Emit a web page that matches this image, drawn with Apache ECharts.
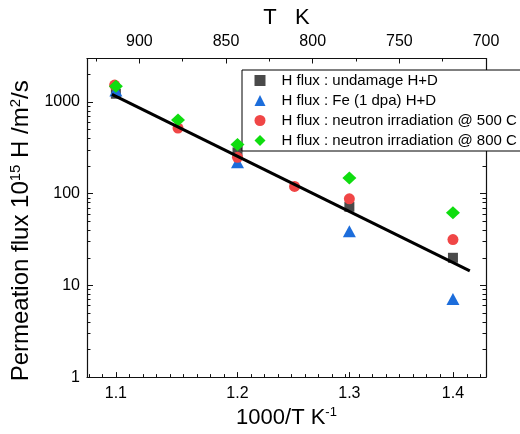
<!DOCTYPE html>
<html>
<head>
<meta charset="utf-8">
<script src="https://cdn.jsdelivr.net/npm/echarts@6.0.0/dist/echarts.min.js"></script>
<style>
  html, body { margin: 0; padding: 0; background: #fff; }
  #chart { width: 520px; height: 434px; }
</style>
</head>
<body>
<div id="chart"></div>
<script>
// ---- data (1000/T in K^-1, flux in 10^15 H/m^2/s) ----
const seriesNames = [
  'H flux : undamage H+D',
  'H flux : Fe (1 dpa) H+D',
  'H flux : neutron irradiation @ 500 C',
  'H flux : neutron irradiation @ 800 C'
];
const xUndamaged = [1.1, 1.2, 1.3, 1.4];
const yUndamaged = [1230, 282, 72, 20];
const xFe = [1.1, 1.2, 1.3, 1.4];
const yFe = [1335, 220, 39, 7.1];
const x500 = [1.099, 1.15, 1.2, 1.25, 1.3, 1.4];
const y500 = [1530, 519, 249, 120, 88, 31.6];
const x800 = [1.1, 1.15, 1.2, 1.3, 1.4];
const y800 = [1484, 637, 344, 148, 62];
const xFit = [1.0969, 1.417];
const yFit = [1210, 14.4];

// ---- tick labels ----
const bottomTickLabels = [1.1, 1.2, 1.3, 1.4];
const topTickLabels = [700, 750, 800, 850, 900];
const topMinorTicks = [725, 775, 825, 875, 925];
const yTickLabels = [1, 10, 100, 1000];

// ---- axis ranges ----
const X_MIN = 1.0775, X_MAX = 1.4335;   // 1000/T, log-scaled axis
const Y_MIN = 1, Y_MAX = 2980;          // flux, log-scaled axis
const T_RIGHT = 700, T_LEFT = 930.25;   // top T axis (linear)

const FONT = 'Liberation Sans, Arial, Helvetica, sans-serif';
const L = Math.log10;
const pts = (xs, ys) => xs.map((x, i) => [L(x), L(ys[i])]);

const xMajor = bottomTickLabels.map(L);
const xMinor = [];
{
  const step = (L(1.2) - L(1.1)) / 9;
  let v = L(1.1);
  while (v - step >= L(X_MIN)) v -= step;
  for (; v <= L(X_MAX) + 1e-9; v += step) xMinor.push(v);
}
const yMajor = yTickLabels.map(L);
const yMinor = [];
yTickLabels.forEach(d => { for (let k = 2; k <= 9; k++) if (k * d <= Y_MAX) yMinor.push(L(k * d)); });

const lineCol = '#111';
function tickAxisBase(extra) {
  return Object.assign({
    type: 'value',
    splitLine: { show: false },
    axisLine: { show: false, onZero: false },
    axisLabel: { show: false },
    axisPointer: { show: false }
  }, extra);
}

const chart = echarts.init(document.getElementById('chart'), null, { renderer: 'canvas' });

const option = {
  backgroundColor: '#fff',
  animation: false,
  grid: { left: 82, right: 34, top: 58.5, bottom: 51, containLabel: false },
  legend: {
    orient: 'vertical',
    left: 242, top: 70,
    padding: [3, 24, 3, 12.5],
    itemWidth: 11, itemHeight: 11, itemGap: 5,
    borderColor: '#000', borderWidth: 1, borderRadius: 0,
    backgroundColor: '#fff',
    textStyle: { fontFamily: FONT, fontSize: 15, color: '#000', lineHeight: 14, padding: [0, 0, 0, 11] },
    data: seriesNames
  },
  xAxis: [
    tickAxisBase({
      position: 'bottom', min: L(X_MIN), max: L(X_MAX),
      axisLine: { show: true, onZero: false, lineStyle: { color: lineCol, width: 1.2 } },
      axisTick: { show: true, inside: true, length: 5, customValues: xMajor, lineStyle: { color: lineCol } },
      axisLabel: {
        show: true, customValues: xMajor, margin: 8,
        formatter: v => Math.pow(10, v).toFixed(1),
        fontFamily: FONT, fontSize: 16, color: '#000'
      },
      name: '{a|1000/T K}{s|-1}', nameLocation: 'middle', nameGap: 26,
      nameTextStyle: {
        rich: {
          a: { fontFamily: FONT, fontSize: 22, color: '#000', lineHeight: 24 },
          s: { fontFamily: FONT, fontSize: 13, color: '#000', verticalAlign: 'top', lineHeight: 13 }
        }
      }
    }),
    tickAxisBase({
      position: 'bottom', min: L(X_MIN), max: L(X_MAX),
      axisTick: { show: true, inside: true, length: 3, customValues: xMinor, lineStyle: { color: lineCol } }
    }),
    tickAxisBase({
      position: 'top', inverse: true, min: T_RIGHT, max: T_LEFT,
      axisLine: { show: true, onZero: false, lineStyle: { color: lineCol, width: 1.2 } },
      axisTick: { show: true, inside: true, length: 5, customValues: topTickLabels, lineStyle: { color: lineCol } },
      axisLabel: {
        show: true, customValues: topTickLabels, margin: 9,
        fontFamily: FONT, fontSize: 16, color: '#000'
      },
      name: 'T   K', nameLocation: 'middle', nameGap: 27,
      nameTextStyle: { fontFamily: FONT, fontSize: 22, color: '#000' }
    }),
    tickAxisBase({
      position: 'top', inverse: true, min: T_RIGHT, max: T_LEFT,
      axisTick: { show: true, inside: true, length: 3, customValues: topMinorTicks, lineStyle: { color: lineCol } }
    })
  ],
  yAxis: [
    tickAxisBase({
      position: 'left', min: L(Y_MIN), max: L(Y_MAX),
      axisLine: { show: true, onZero: false, lineStyle: { color: lineCol, width: 1.2 } },
      axisTick: { show: true, inside: true, length: 6, customValues: yMajor, lineStyle: { color: lineCol } },
      axisLabel: {
        show: true, customValues: yMajor, margin: 7,
        formatter: v => String(Math.round(Math.pow(10, v))),
        fontFamily: FONT, fontSize: 16, color: '#000'
      },
      name: '{a|Permeation flux 10}{s|15}{a| H /m}{s|2}{a|/s}',
      nameLocation: 'middle', nameRotate: 90, nameGap: 48,
      nameTextStyle: {
        padding: [0, 26, 0, 0],
        rich: {
          a: { fontFamily: FONT, fontSize: 24, color: '#000', lineHeight: 27 },
          s: { fontFamily: FONT, fontSize: 15, color: '#000', verticalAlign: 'top', lineHeight: 15 }
        }
      }
    }),
    tickAxisBase({
      position: 'left', min: L(Y_MIN), max: L(Y_MAX),
      axisTick: { show: true, inside: true, length: 3.5, customValues: yMinor, lineStyle: { color: lineCol } }
    }),
    tickAxisBase({
      position: 'right', min: L(Y_MIN), max: L(Y_MAX),
      axisLine: { show: true, onZero: false, lineStyle: { color: lineCol, width: 1.2 } },
      axisTick: { show: true, inside: true, length: 6, customValues: yMajor, lineStyle: { color: lineCol } }
    }),
    tickAxisBase({
      position: 'right', min: L(Y_MIN), max: L(Y_MAX),
      axisTick: { show: true, inside: true, length: 3.5, customValues: yMinor, lineStyle: { color: lineCol } }
    })
  ],
  series: [
    {
      name: seriesNames[0], type: 'scatter', xAxisIndex: 0, yAxisIndex: 0,
      symbol: 'rect', symbolSize: [10, 10],
      itemStyle: { color: '#4a4a4a', opacity: 1 },
      data: pts(xUndamaged, yUndamaged), z: 2
    },
    {
      name: seriesNames[1], type: 'scatter', xAxisIndex: 0, yAxisIndex: 0,
      symbol: 'triangle', symbolSize: [13, 12],
      itemStyle: { color: '#1c6ddb', opacity: 1 },
      data: pts(xFe, yFe), z: 3
    },
    {
      name: seriesNames[2], type: 'scatter', xAxisIndex: 0, yAxisIndex: 0,
      symbol: 'circle', symbolSize: 11,
      itemStyle: { color: '#f04646', opacity: 1 },
      data: pts(x500, y500), z: 4
    },
    {
      name: seriesNames[3], type: 'scatter', xAxisIndex: 0, yAxisIndex: 0,
      symbol: 'diamond', symbolSize: [14, 13],
      itemStyle: { color: '#0fdd0f', opacity: 1 },
      data: pts(x800, y800), z: 5
    },
    {
      name: 'fit', type: 'line', xAxisIndex: 0, yAxisIndex: 0,
      showSymbol: false, symbol: 'none',
      lineStyle: { color: '#000', width: 3 },
      data: pts(xFit, yFit), z: 6
    }
  ]
};
chart.setOption(option);
</script>
</body>
</html>
